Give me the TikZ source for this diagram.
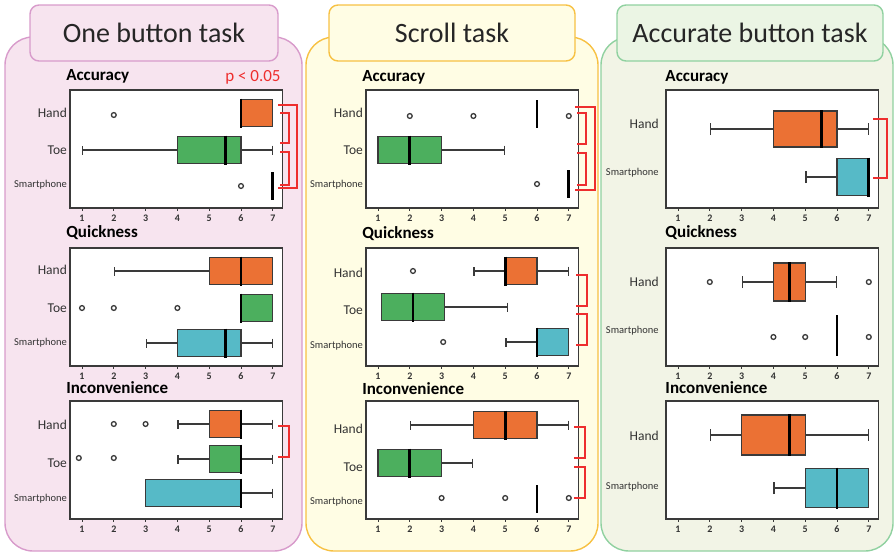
\documentclass[tikz,border=0pt]{standalone}
\usepackage{fontspec}
\setmainfont{Carlito}
\usetikzlibrary{arrows.meta}

\definecolor{handc}{HTML}{EB7134}
\definecolor{toec}{HTML}{4CAF5E}
\definecolor{phonec}{HTML}{56BAC7}
\definecolor{sigred}{HTML}{EE2E2E}
\definecolor{pinkbg}{HTML}{F7E4EF}
\definecolor{pinkln}{HTML}{D89BCB}
\definecolor{yelbg}{HTML}{FFFDE4}
\definecolor{yelln}{HTML}{F7C143}
\definecolor{grnbg}{HTML}{F2F4E6}
\definecolor{grnln}{HTML}{90D1A0}
\definecolor{grntab}{HTML}{EBF5E4}
\definecolor{linegray}{HTML}{3A3A3A}
\definecolor{labgray}{HTML}{333333}

\tikzset{
  panel/.style={line width=1.4pt, rounded corners=28pt},
  tab/.style={line width=1.4pt, rounded corners=9pt},
  tasktitle/.style={font=\fontsize{28}{32}\selectfont, text=black!85},
  frame/.style={draw=linegray, line width=1.3pt, fill=white},
  whisker/.style={draw=linegray, line width=1.3pt, {Bar[width=#1]}-{Bar[width=#1]}},
  whisker/.default=9pt,
  box/.style={draw=linegray, line width=1.2pt},
  median/.style={draw=black, line width=2.8pt},
  outlier/.style={draw=linegray, line width=1.3pt, fill=white},
  sig/.style={draw=sigred, line width=1.3pt},
  ptitle/.style={font=\fontsize{17}{19}\selectfont\bfseries, anchor=west, inner sep=0pt},
  rowlab/.style={font=\fontsize{13.5}{15}\selectfont, anchor=east, inner sep=0pt, text=labgray},
  phonelab/.style={font=\fontsize{10.5}{12}\selectfont, anchor=east, inner sep=0pt, text=labgray},
  ticklab/.style={font=\fontsize{10}{11}\selectfont\bfseries, inner sep=0pt, text=labgray}
}

\newcommand{\capw}{9pt}
\newcommand{\plotframe}[2]{%
  \draw[frame] (0.62,#2) rectangle (7.31,#2+118);
  \foreach \v in {1,...,7}{
    \draw[linegray, line width=1pt] (\v,#2+118) -- (\v,#2+121);
    \node[ticklab] (#1-\v) at (\v,#2+128) {\v};
  }}
\newcommand{\boxrow}[8]{%
  \draw[whisker=\capw] (#2,#1) -- (#6,#1);
  \draw[box, fill=#7] (#3,#1-#8) rectangle (#5,#1+#8);
  \draw[median] (#4,#1-#8-1) -- (#4,#1+#8+1);}
\newcommand{\sigbar}[4]{%
  \draw[sig] (#1,#3) -- (#2,#3) -- (#2,#4) -- (#1,#4);}

\begin{document}
\begin{tikzpicture}[x=1pt, y=-1pt]
  \useasboundingbox (0,0) rectangle (896,554);

  \draw[panel, draw=pinkln, fill=pinkbg] (5,37) rectangle (302,551);
  \draw[panel, draw=yelln, fill=yelbg] (306,37) rectangle (598,551);
  \draw[panel, draw=grnln, fill=grnbg] (601,37) rectangle (893,551);
  \draw[tab, draw=pinkln, fill=pinkbg] (30,5) rectangle (278,61);
  \draw[tab, draw=yelln, fill=yelbg] (329,5) rectangle (575,61);
  \draw[tab, draw=grnln, fill=grntab] (617,5) rectangle (883,61);
  \node[tasktitle] (one) at (154,33) {One button task};
  \node[tasktitle] (scroll) at (452,33) {Scroll task};
  \node[tasktitle] (accurate) at (750,33) {Accurate button task};
  \node[font=\fontsize{17}{19}\selectfont, text=sigred, inner sep=0pt] (pval) at (253,77) {p < 0.05};

  \begin{scope}[xshift=50.2pt, x=31.8pt]
    \plotframe{oa}{90}
    \node[ptitle] (oa-title) at (0.5,76) {Accuracy};
    \node[rowlab] (oa-hand) at (0.53,113) {Hand};
    \node[rowlab] (oa-toe) at (0.53,150) {Toe};
    \node[phonelab] (oa-phone) at (0.53,185) {Smartphone};
    \boxrow{113}{6}{6}{6}{7}{7}{handc}{13.5}
    \boxrow{150}{1}{4}{5.5}{6}{7}{toec}{13.5}
    \draw[median] (7,172) -- (7,200);
    \foreach \Point in {(2,115), (6,186)}{
      \draw[outlier] \Point circle[radius=2.4pt];
    }

    \plotframe{oq}{248}
    \node[ptitle] (oq-title) at (0.5,233) {Quickness};
    \node[rowlab] (oq-hand) at (0.53,270) {Hand};
    \node[rowlab] (oq-toe) at (0.53,308) {Toe};
    \node[phonelab] (oq-phone) at (0.53,343) {Smartphone};
    \boxrow{271}{2}{5}{6}{7}{7}{handc}{13.5}
    \boxrow{308}{6}{6}{6}{7}{7}{toec}{13.5}
    \boxrow{343}{3}{4}{5.5}{6}{7}{phonec}{13.5}
    \foreach \Point in {(1,308), (2,308), (4,308)}{
      \draw[outlier] \Point circle[radius=2.4pt];
    }

    \plotframe{oi}{401}
    \node[ptitle] (oi-title) at (0.5,388) {Inconvenience};
    \node[rowlab] (oi-hand) at (0.53,425) {Hand};
    \node[rowlab] (oi-toe) at (0.53,463) {Toe};
    \node[phonelab] (oi-phone) at (0.53,499) {Smartphone};
    \boxrow{424}{4}{5}{6}{6}{7}{handc}{13.5}
    \boxrow{459}{4}{5}{6}{6}{7}{toec}{13.5}
    \boxrow{493}{3}{3}{6}{6}{7}{phonec}{13.5}
    \foreach \Point in {(2,424), (3,424), (0.9,458), (2,458)}{
      \draw[outlier] \Point circle[radius=2.4pt];
    }
  \end{scope}

  \begin{scope}[xshift=346.2pt, x=31.8pt]
    \plotframe{sa}{90}
    \node[ptitle] (sa-title) at (0.5,77) {Accuracy};
    \node[rowlab] (sa-hand) at (0.53,113) {Hand};
    \node[rowlab] (sa-toe) at (0.53,150) {Toe};
    \node[phonelab] (sa-phone) at (0.53,185) {Smartphone};
    \draw[median] (6,100) -- (6,128);
    \boxrow{150}{1}{1}{2}{3}{5}{toec}{13.5}
    \draw[median] (7,170) -- (7,198);
    \foreach \Point in {(2,116), (4,116), (7,116), (6,184)}{
      \draw[outlier] \Point circle[radius=2.4pt];
    }

    \plotframe{sq}{248}
    \node[ptitle] (sq-title) at (0.5,234) {Quickness};
    \node[rowlab] (sq-hand) at (0.53,273) {Hand};
    \node[rowlab] (sq-toe) at (0.53,310) {Toe};
    \node[phonelab] (sq-phone) at (0.53,346) {Smartphone};
    \boxrow{271}{4}{5}{5}{6}{7}{handc}{13.5}
    \boxrow{307}{1.1}{1.1}{2.1}{3.1}{5.1}{toec}{13.5}
    \boxrow{342}{5}{6}{6}{7}{7}{phonec}{13.5}
    \foreach \Point in {(2.1,271), (3.05,342)}{
      \draw[outlier] \Point circle[radius=2.4pt];
    }

    \plotframe{si}{401}
    \node[ptitle] (si-title) at (0.5,389) {Inconvenience};
    \node[rowlab] (si-hand) at (0.53,429) {Hand};
    \node[rowlab] (si-toe) at (0.53,467) {Toe};
    \node[phonelab] (si-phone) at (0.53,502) {Smartphone};
    \boxrow{425}{2}{4}{5}{6}{7}{handc}{13.5}
    \boxrow{463}{1}{1}{2}{3}{4}{toec}{13.5}
    \draw[median] (6,485) -- (6,513);
    \foreach \Point in {(3,498), (5,498), (7,498)}{
      \draw[outlier] \Point circle[radius=2.4pt];
    }
  \end{scope}

  \begin{scope}[xshift=646.2pt, x=31.8pt]
    \renewcommand{\capw}{12pt}
    \plotframe{ba}{90}
    \node[ptitle] (ba-title) at (0.6,77) {Accuracy};
    \node[rowlab] (ba-hand) at (0.4,124) {Hand};
    \node[phonelab] (ba-phone) at (0.4,173) {Smartphone};
    \boxrow{129}{2}{4}{5.5}{6}{7}{handc}{18}
    \boxrow{177}{5}{6}{7}{7}{7}{phonec}{18.5}

    \plotframe{bq}{248}
    \node[ptitle] (bq-title) at (0.6,233) {Quickness};
    \node[rowlab] (bq-hand) at (0.4,282) {Hand};
    \node[phonelab] (bq-phone) at (0.4,331) {Smartphone};
    \boxrow{282}{3}{4}{4.5}{5}{6}{handc}{19}
    \draw[median] (6,315) -- (6,356);
    \foreach \Point in {(2,282), (7,282), (4,337), (5,337), (7,337)}{
      \draw[outlier] \Point circle[radius=2.4pt];
    }

    \plotframe{bi}{401}
    \node[ptitle] (bi-title) at (0.6,388) {Inconvenience};
    \node[rowlab] (bi-hand) at (0.4,436) {Hand};
    \node[phonelab] (bi-phone) at (0.4,487) {Smartphone};
    \boxrow{435}{2}{3}{4.5}{5}{7}{handc}{20}
    \boxrow{488}{4}{5}{6}{7}{7}{phonec}{19.5}
  \end{scope}

  \sigbar{278}{297}{105}{188}
  \sigbar{280}{289}{113}{143}
  \sigbar{280}{289}{152}{185}
  \sigbar{278}{289}{426}{457}
  \sigbar{575}{595}{107}{190}
  \sigbar{577}{586}{113}{144}
  \sigbar{577}{586}{153}{185}
  \sigbar{576}{587}{275}{306}
  \sigbar{576}{587}{314}{345}
  \sigbar{574}{585}{427}{458}
  \sigbar{574}{585}{467}{498}
  \sigbar{873}{887}{119}{178}
\end{tikzpicture}
\end{document}
